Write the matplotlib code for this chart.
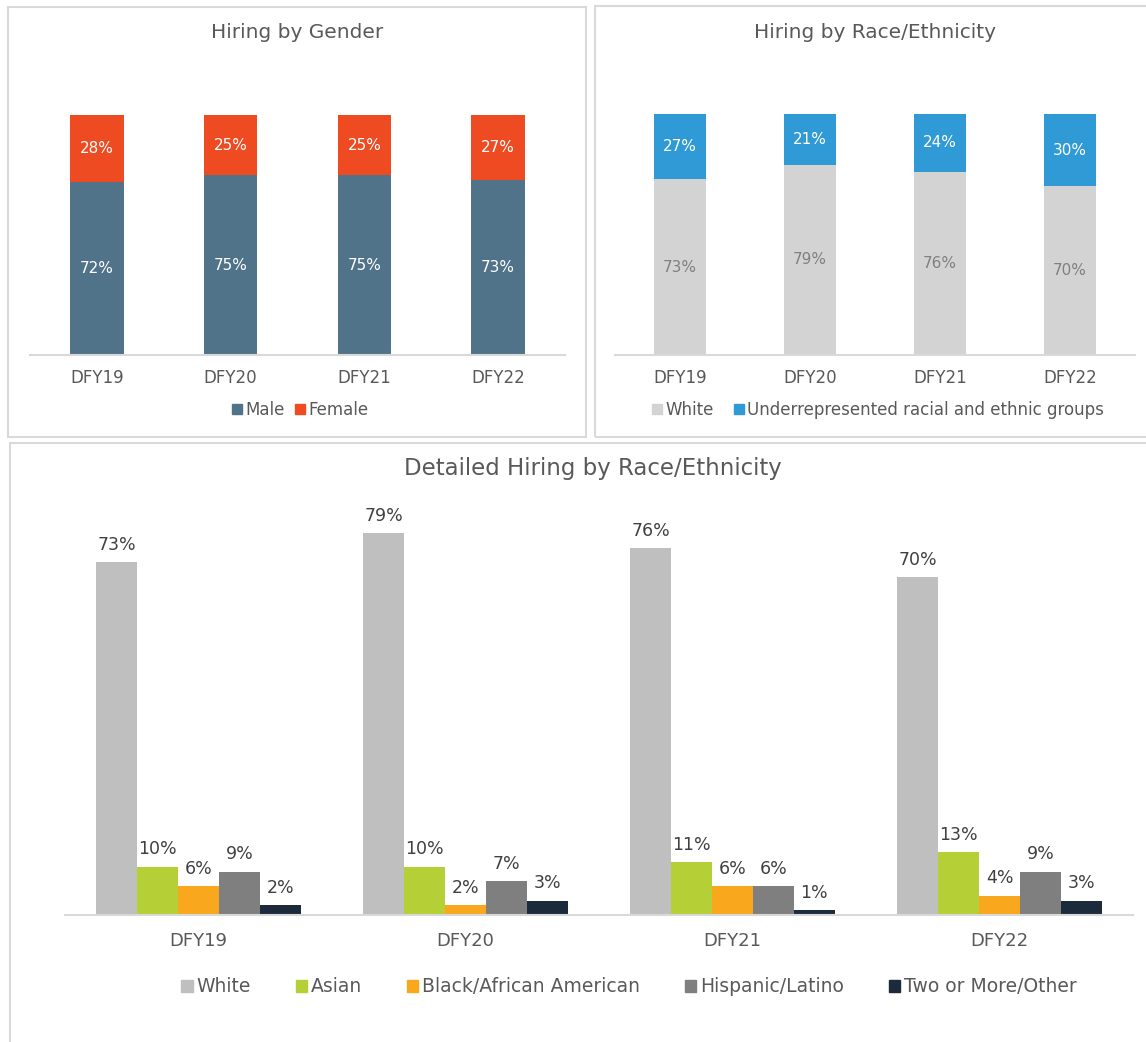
import matplotlib.pyplot as plt
from matplotlib.patches import Rectangle, Patch

plt.rcParams['font.family'] = ['DejaVu Sans']

years = ["DFY19", "DFY20", "DFY21", "DFY22"]

# gender split
male = [72, 75, 75, 73]
female = [28, 25, 25, 27]

# white vs underrepresented groups
white = [73, 79, 76, 70]
urg = [27, 21, 24, 30]

# detailed race/ethnicity
detail_groups = ["White", "Asian", "Black/African American", "Hispanic/Latino", "Two or More/Other"]
detail_white = [73, 79, 76, 70]
detail_asian = [10, 10, 11, 13]
detail_black = [6, 2, 6, 4]
detail_hispanic = [9, 7, 6, 9]
detail_other = [2, 3, 1, 3]

W, H = 1146, 1042
TXT = "#595959"
GRID = "#D9D9D9"

fig = plt.figure(figsize=(W / 100, H / 100), dpi=100)


def px_axes(left, top, right, bottom):
    # pixel box -> figure fraction axes
    return fig.add_axes([left / W, 1 - bottom / H, (right - left) / W, (bottom - top) / H])


def px_frame(left, top, right, bottom):
    fig.patches.append(Rectangle((left / W, 1 - bottom / H), (right - left) / W, (bottom - top) / H,
                                 transform=fig.transFigure, fill=False, edgecolor=GRID, linewidth=1.5))


def style_axes(ax, pad, size):
    for s in ["top", "left", "right"]:
        ax.spines[s].set_visible(False)
    ax.spines["bottom"].set_color(GRID)
    ax.spines["bottom"].set_linewidth(1.5)
    ax.set_yticks([])
    ax.tick_params(axis="x", length=0, pad=pad, labelsize=size, labelcolor=TXT)
    ax.set_xlim(-0.5, 3.5)


px_frame(8, 7, 586, 437)
px_frame(595, 6, 1160, 437)
px_frame(10, 443, 1160, 1060)

x = list(range(len(years)))

# Hiring by Gender
ax1 = px_axes(30, 115, 565, 355)
b_m = ax1.bar(x, male, width=0.4, color="#51738A")
b_f = ax1.bar(x, female, width=0.4, bottom=male, color="#EE4B22")
ax1.bar_label(b_m, labels=[f"{v}%" for v in male], label_type="center", color="white", fontsize=11)
ax1.bar_label(b_f, labels=[f"{v}%" for v in female], label_type="center", color="white", fontsize=11)
ax1.set_ylim(0, 100)
ax1.set_xticks(x, years)
style_axes(ax1, 10, 12)
fig.text(297 / W, 1 - 33 / H, "Hiring by Gender", ha="center", va="center", fontsize=14.5, color=TXT)
fig.legend(handles=[Patch(color="#51738A", label="Male"), Patch(color="#EE4B22", label="Female")],
           loc="center", bbox_to_anchor=(300 / W, 1 - 410 / H), ncol=2, frameon=False,
           handlelength=0.6, handleheight=0.6, handletextpad=0.2, columnspacing=0.6,
           fontsize=12, labelcolor=TXT)

# Hiring by Race/Ethnicity
ax2 = px_axes(615, 114, 1135, 355)
b_w = ax2.bar(x, white, width=0.4, color="#D3D3D3")
b_u = ax2.bar(x, urg, width=0.4, bottom=white, color="#2F9AD6")
ax2.bar_label(b_w, labels=[f"{v}%" for v in white], label_type="center", color="#808080", fontsize=11)
ax2.bar_label(b_u, labels=[f"{v}%" for v in urg], label_type="center", color="white", fontsize=11)
ax2.set_ylim(0, 100)
ax2.set_xticks(x, years)
style_axes(ax2, 10, 12)
fig.text(875 / W, 1 - 32 / H, "Hiring by Race/Ethnicity", ha="center", va="center", fontsize=14.5, color=TXT)
fig.legend(handles=[Patch(color="#D3D3D3", label="White"),
                    Patch(color="#2F9AD6", label="Underrepresented racial and ethnic groups")],
           loc="center", bbox_to_anchor=(878 / W, 1 - 410 / H), ncol=2, frameon=False,
           handlelength=0.6, handleheight=0.6, handletextpad=0.2, columnspacing=1.2,
           fontsize=12, labelcolor=TXT)

# Detailed Hiring by Race/Ethnicity
ax3 = px_axes(65, 490, 1133, 915)
series = [detail_white, detail_asian, detail_black, detail_hispanic, detail_other]
colors = ["#BFBFBF", "#B5CF36", "#F9A71C", "#7F7F7F", "#1C2B3C"]
bw = 0.153
for i, (vals, col, name) in enumerate(zip(series, colors, detail_groups)):
    pos = [xi + (i - 2) * bw for xi in x]
    bars = ax3.bar(pos, vals, width=bw, color=col, label=name)
    ax3.bar_label(bars, labels=[f"{v}%" for v in vals], padding=6, color="#404040", fontsize=12.5)
ax3.set_ylim(0, 425 / 4.83)
ax3.set_xticks(x, years)
style_axes(ax3, 12, 13)
fig.text(593 / W, 1 - 468 / H, "Detailed Hiring by Race/Ethnicity", ha="center", va="center",
         fontsize=16.5, color=TXT)
fig.legend(handles=[Patch(color=c, label=n) for c, n in zip(colors, detail_groups)],
           loc="center", bbox_to_anchor=(629 / W, 1 - 987 / H), ncol=5, frameon=False,
           handlelength=0.6, handleheight=0.6, handletextpad=0.2, columnspacing=2.4,
           fontsize=13.5, labelcolor=TXT)

fig.savefig("out.png", dpi=100)
